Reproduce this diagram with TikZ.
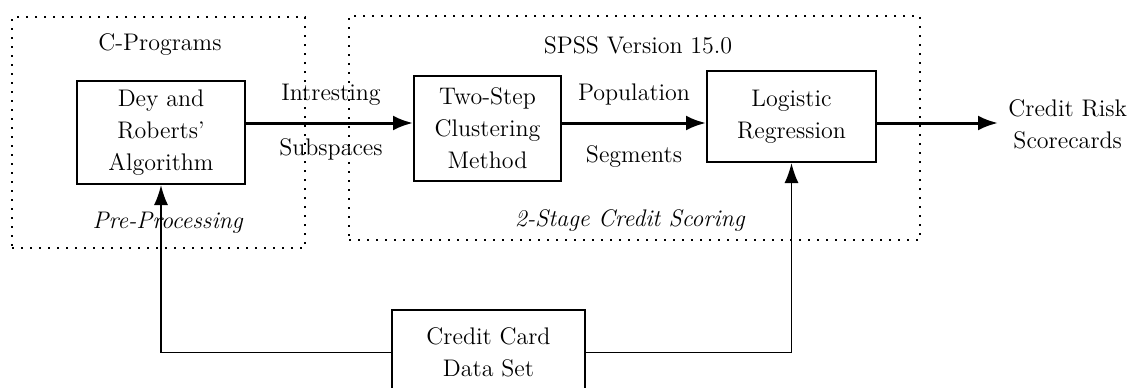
\documentclass[tikz,border=0pt]{standalone}
\usepackage{tikz}
\usetikzlibrary{positioning,arrows.meta}

\begin{document}
\begin{tikzpicture}[x=0.5pt,y=-0.5pt
% Node styles
		, every node/.style={font=\fontsize{12}{16}\selectfont}
		, block/.style={rectangle
							    , draw=black, line width=1pt
							    , fill=white
							    , align=center
							    , inner sep=0pt}
		, region/.style={rectangle
							    , draw=black
							    , line width=1.2pt
							    , dash pattern=on 1.2pt off 3.3pt}
		, note/.style={align=center
							    , inner sep=0pt}
% Connector styles
		, flow/.style={line width=1.5pt
							    , -{Latex[length=10pt,width=7.5pt]}}
		, feed/.style={line width=0.9pt
							    , -{Latex[length=10pt,width=7pt]}}
	]
	\useasboundingbox (0,0) rectangle (1131,387);
%% Dotted frames
	\node [region, minimum width=146.5pt, minimum height=115.5pt] (cprog) at (158.5,132.5) {};
	\node [region, minimum width=285.5pt, minimum height=112pt] (spss) at (634.5,128) {};
	\node [note] (cptitle) at (160,45) {C-Programs};
	\node [note] (cpnote) at (168,223) {\emph{Pre-Processing}};
	\node [note] (spsstitle) at (638,45) {SPSS Version 15.0};
	\node [note] (spssnote) at (630,220) {\emph{2-Stage Credit Scoring}};
%% Boxes
	\node [block, minimum width=84pt, minimum height=51.5pt] (dey) at (161,132.5) {Dey and\\Roberts'\\Algorithm};
	\node [block, minimum width=73.5pt, minimum height=52.5pt] (twostep) at (487.5,128.5) {Two-Step\\Clustering\\Method};
	\node [block, minimum width=84.5pt, minimum height=45.5pt] (logit) at (791.5,116.5) {Logistic\\Regression};
	\node [block, minimum width=96.5pt, minimum height=42.5pt] (ccdata) at (488.5,352.5) {Credit Card\\Data Set};
	\node [note, inner sep=5pt, anchor=west] (risk) at (998,124.5) {Credit Risk\\Scorecards};
%% Edge labels
	\node [note] (subsp) at (331,122.5) {Intresting\\[11.5pt]Subspaces};
	\node [note] (segs) at (634,126) {Population\\[15pt]Segments};
%% Connectors
	\coordinate (axis) at (0,123);
	\draw [flow] (dey.east |- axis) -- (twostep.west |- axis);
	\draw [flow] (twostep.east |- axis) -- (logit.west |- axis);
	\draw [flow] (logit.east |- axis) -- (risk.west |- axis);
	\draw [feed] (ccdata.west) -| (dey.south);
	\draw [feed] (ccdata.east) -| (logit.south);
\end{tikzpicture}
\end{document}
